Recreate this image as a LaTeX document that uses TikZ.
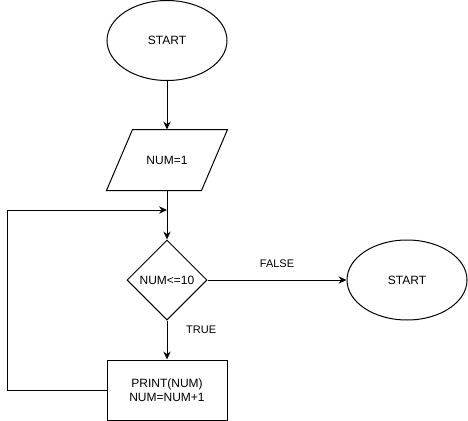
\documentclass[tikz,border=0pt]{standalone}
\usepackage{fontspec}
\setmainfont{Liberation Sans}
\usetikzlibrary{shapes.geometric,arrows.meta}
\begin{document}
\begin{tikzpicture}[x=0.75pt,y=-0.75pt,
  font=\fontsize{9}{10.5}\selectfont,
  every node/.style={line width=0.75pt,inner sep=0pt,align=center},
  term/.style={draw,ellipse,minimum width=90pt,minimum height=60pt},
  iobox/.style={rectangle,minimum width=70.5pt,minimum height=45pt},
  decide/.style={draw,diamond,minimum width=60pt,minimum height=60pt},
  procbox/.style={draw,rectangle,minimum width=90pt,minimum height=45pt},
  arr/.style={line width=0.75pt,-{Stealth[length=6pt,width=5.5pt,inset=2pt]}},
  lbl/.style={font=\fontsize{8.25}{10}\selectfont}
]
\useasboundingbox (0,0) rectangle (468,421);
\node[term] (start) at (167,40.5) {START};
\node[iobox] (num) at (167,160) {NUM=1};
\draw[line width=0.75pt,line join=miter]
  ([xshift=9.75pt]num.north west) -- ([xshift=9.75pt]num.north east)
  -- ([xshift=-9.75pt]num.south east) -- ([xshift=-9.75pt]num.south west) -- cycle;
\node[decide] (cond) at (167,280) {NUM<=10};
\node[term] (stop) at (407,280) {START};
\node[procbox] (body) at (167,390) {PRINT(NUM)\\NUM=NUM+1};
\coordinate (merge) at (167,210);
\draw[arr] (start) -- (num);
\draw[line width=0.75pt] (num) -- (merge);
\draw[arr] (merge) -- (cond);
\draw[arr] (cond) -- node[lbl,above=9pt] {FALSE} (stop);
\draw[arr] (cond) -- node[lbl,pos=0.25,right=14pt] {TRUE} (body);
\draw[arr] (body.west) -- (7,390) -- (7,210) -- (merge);
\end{tikzpicture}
\end{document}
